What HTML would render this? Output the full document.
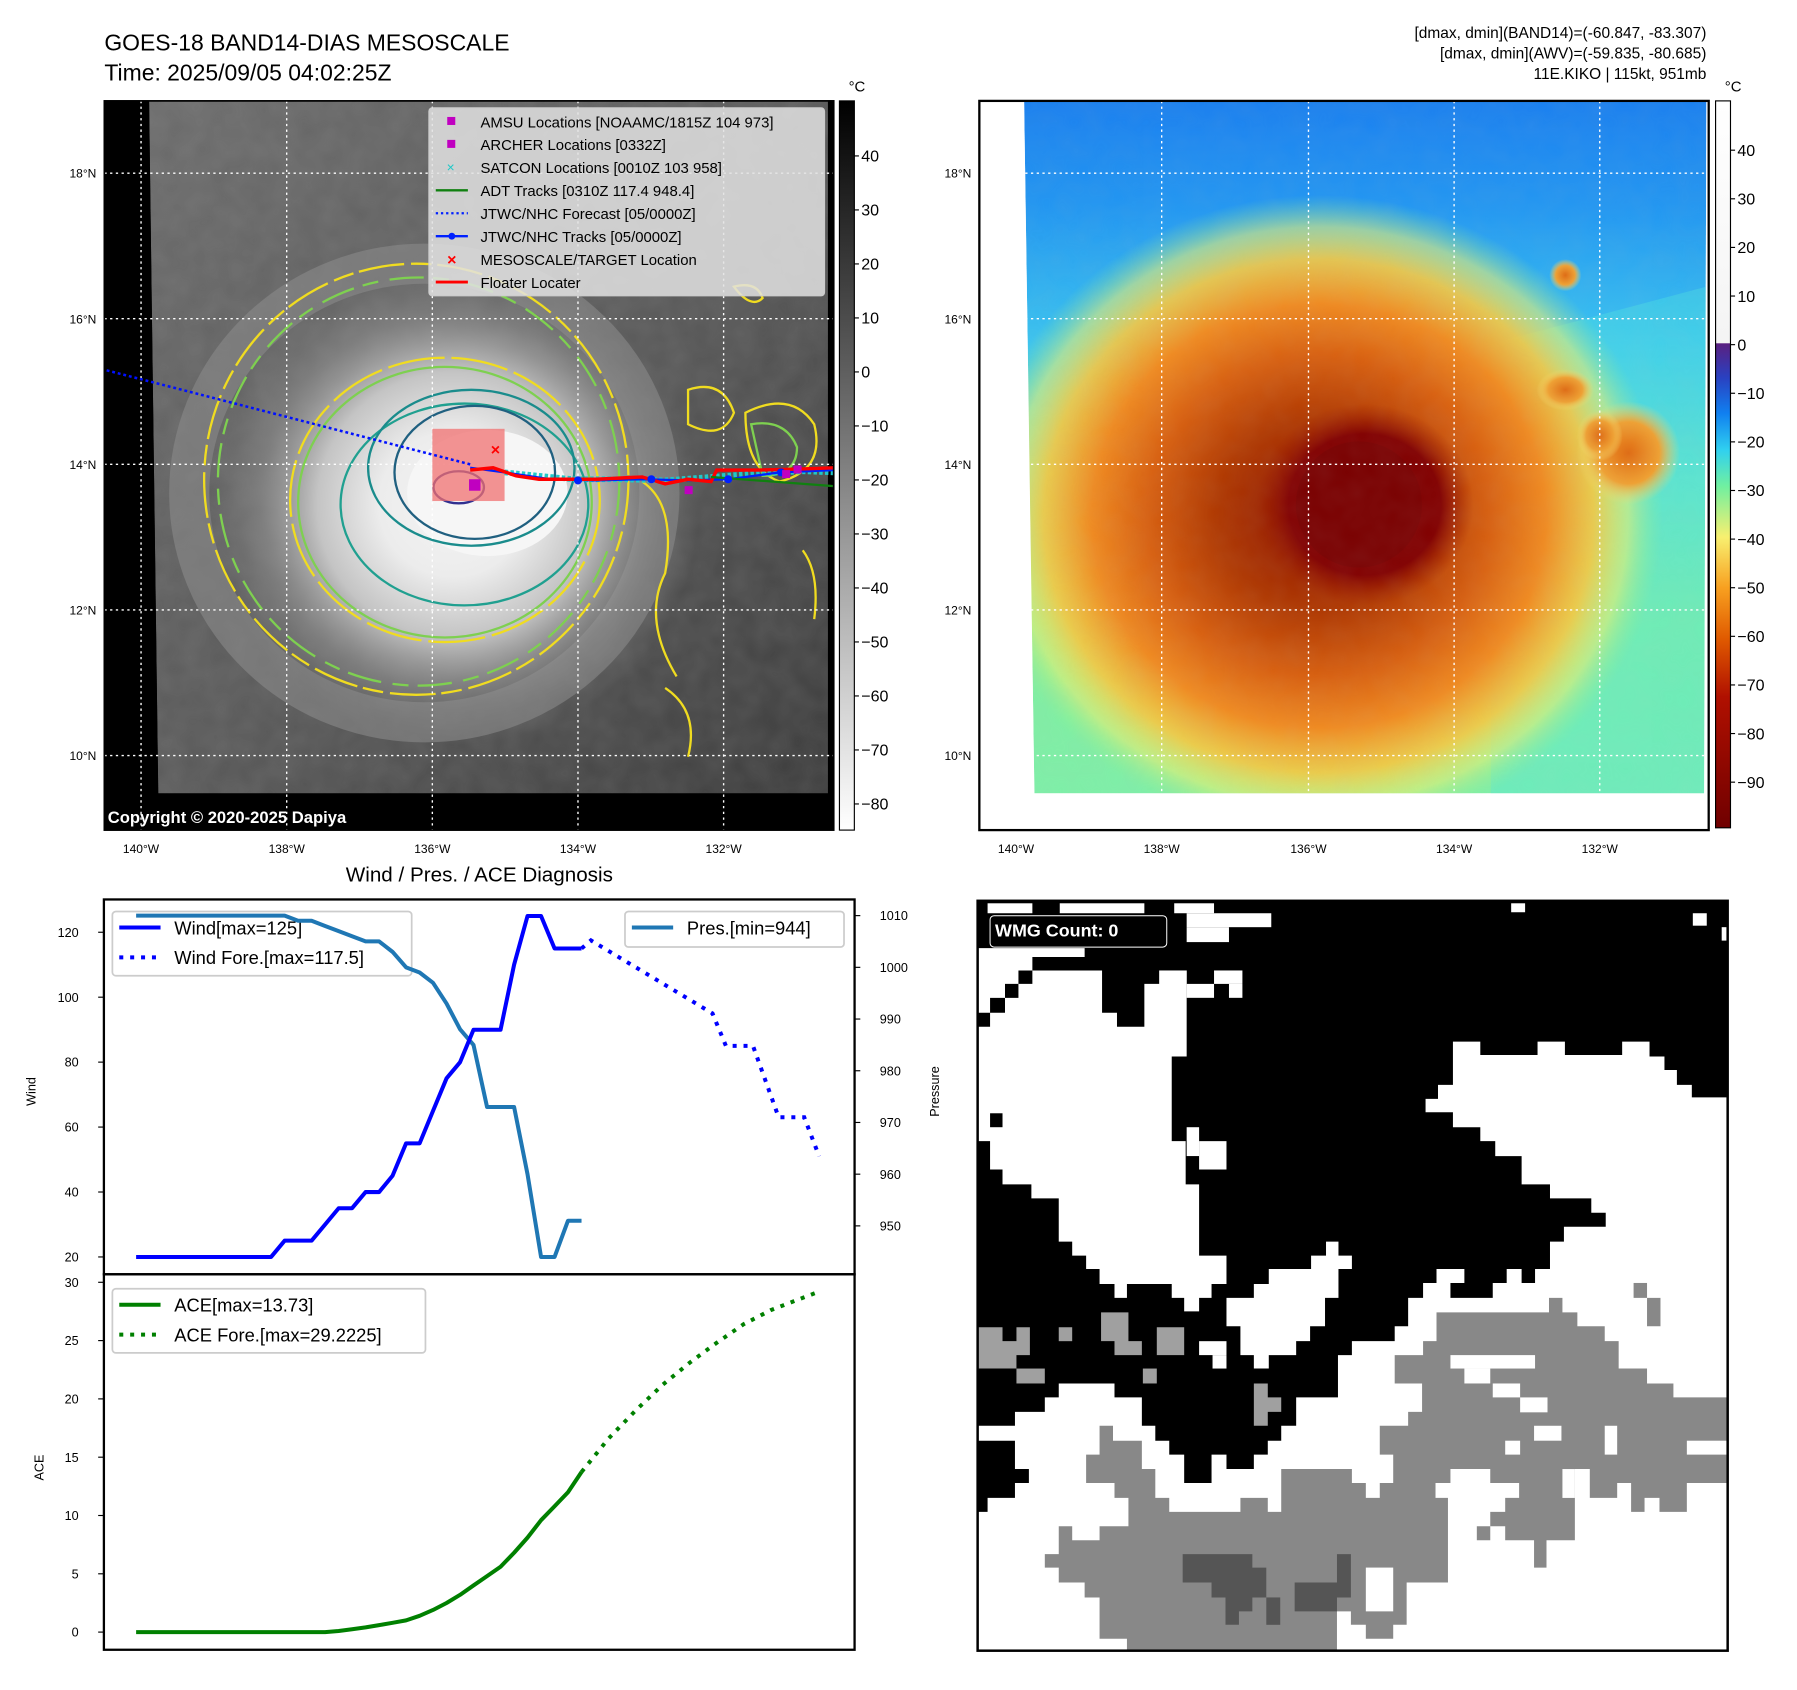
<!DOCTYPE html>
<html><head><meta charset="utf-8"><style>
html,body{margin:0;padding:0;background:#fff;}
svg{display:block;font-family:"Liberation Sans","DejaVu Sans",sans-serif;}
</style></head><body>
<svg id="root" width="1797" height="1690" viewBox="0 0 1567 1474" preserveAspectRatio="none" xmlns="http://www.w3.org/2000/svg">
<defs>
<clipPath id="lclip"><polygon points="130,88 722,88 722,692 138,692"/></clipPath>
<clipPath id="rclip"><polygon points="893,88 1488,88 1486,692 902,692"/></clipPath>
<linearGradient id="lbg" x1="0" y1="0" x2="1" y2="1"><stop offset="0" stop-color="#6c6c6c"/><stop offset="0.5" stop-color="#5a5a5a"/><stop offset="1" stop-color="#3c3c3c"/></linearGradient>
<radialGradient id="lcloud" cx="0.5" cy="0.5" r="0.5"><stop offset="0" stop-color="#f4f4f4"/><stop offset="0.3" stop-color="#ececec"/><stop offset="0.55" stop-color="#c4c4c4"/><stop offset="0.78" stop-color="#909090" stop-opacity="0.6"/><stop offset="1" stop-color="#808080" stop-opacity="0"/></radialGradient>
<linearGradient id="lcb" x1="0" y1="0" x2="0" y2="1"><stop offset="0" stop-color="#000"/><stop offset="1" stop-color="#fff"/></linearGradient>
<linearGradient id="rbg" x1="0" y1="0" x2="0" y2="1"><stop offset="0" stop-color="#1a80f0"/><stop offset="0.15" stop-color="#2196f2"/><stop offset="0.35" stop-color="#3ac4f0"/><stop offset="0.55" stop-color="#62e4c8"/><stop offset="0.75" stop-color="#80f0a0"/><stop offset="1" stop-color="#7ef0a8"/></linearGradient>
<radialGradient id="rstorm" cx="0.5" cy="0.5" r="0.5"><stop offset="0" stop-color="#8a1000"/><stop offset="0.3" stop-color="#b03800"/><stop offset="0.5" stop-color="#d86010"/><stop offset="0.66" stop-color="#f08a20"/><stop offset="0.8" stop-color="#f8c840" stop-opacity="0.9"/><stop offset="0.9" stop-color="#e8f070" stop-opacity="0.6"/><stop offset="1" stop-color="#90f090" stop-opacity="0"/></radialGradient>
<radialGradient id="rcore" cx="0.5" cy="0.5" r="0.5"><stop offset="0" stop-color="#7a0000"/><stop offset="0.7" stop-color="#820000"/><stop offset="1" stop-color="#a02000" stop-opacity="0"/></radialGradient>
<radialGradient id="blob" cx="0.5" cy="0.5" r="0.5"><stop offset="0" stop-color="#e06a10"/><stop offset="0.6" stop-color="#f0a030"/><stop offset="1" stop-color="#f8e070" stop-opacity="0"/></radialGradient>
<linearGradient id="rcb" x1="0" y1="0" x2="0" y2="1"><stop offset="0" stop-color="#fff"/><stop offset="0.333" stop-color="#f4f4f4"/><stop offset="0.334" stop-color="#5a2080"/><stop offset="0.38" stop-color="#2a40c0"/><stop offset="0.43" stop-color="#1080f0"/><stop offset="0.48" stop-color="#30d0f0"/><stop offset="0.53" stop-color="#70f0a0"/><stop offset="0.6" stop-color="#f8f070"/><stop offset="0.67" stop-color="#f8a020"/><stop offset="0.74" stop-color="#e05a00"/><stop offset="0.82" stop-color="#b01000"/><stop offset="1" stop-color="#700000"/></linearGradient>
<filter id="tex" x="0" y="0" width="1" height="1"><feTurbulence type="fractalNoise" baseFrequency="0.05" numOctaves="2" seed="3"/><feColorMatrix values="0 0 0 0 0.5  0 0 0 0 0.5  0 0 0 0 0.5  0 0 0 0.25 0"/></filter>
</defs>

<!-- titles -->
<text x="91" y="44" font-size="20">GOES-18 BAND14-DIAS MESOSCALE</text>
<text x="91" y="70" font-size="20">Time: 2025/09/05 04:02:25Z</text>
<g font-size="13.5" text-anchor="end">
<text x="1488" y="33">[dmax, dmin](BAND14)=(-60.847, -83.307)</text>
<text x="1488" y="51">[dmax, dmin](AWV)=(-59.835, -80.685)</text>
<text x="1488" y="69">11E.KIKO | 115kt, 951mb</text>
</g>

<!-- LEFT MAP -->
<g>
<rect x="91" y="88" width="636" height="636" fill="#000"/>
<g clip-path="url(#lclip)">
<polygon points="130,88 722,88 722,692 138,692" fill="url(#lbg)"/>
<polygon points="130,88 722,88 722,692 138,692" filter="url(#tex)" opacity="0.6"/>
<ellipse cx="370" cy="430" rx="205" ry="200" fill="none" stroke="#8a8a8a" stroke-width="35" opacity="0.6"/>
<ellipse cx="395" cy="440" rx="215" ry="210" fill="url(#lcloud)"/>
<ellipse cx="425" cy="430" rx="70" ry="55" fill="#f6f6f6"/>
<g fill="none" stroke-width="2">
<ellipse cx="363" cy="418" rx="185" ry="188" stroke="#f0dc20" stroke-dasharray="40 6 18 5"/>
<ellipse cx="365" cy="420" rx="175" ry="178" stroke="#7ed050" stroke-dasharray="30 8 14 10"/>
<ellipse cx="388" cy="436" rx="135" ry="124" stroke="#f0dc20" stroke-dasharray="50 6"/>
<ellipse cx="388" cy="438" rx="128" ry="118" stroke="#7ed050"/>
<ellipse cx="405" cy="440" rx="108" ry="88" stroke="#20a090"/>
<ellipse cx="411" cy="408" rx="90" ry="68" stroke="#1a8c8c"/>
<ellipse cx="414" cy="412" rx="70" ry="58" stroke="#206080"/>
<ellipse cx="400" cy="425" rx="22" ry="14" stroke="#303090"/>
<path d="M600,340 q30,-10 40,20 q-10,25 -40,10 z M650,360 q40,-20 60,10 q10,40 -30,50 q-30,-10 -30,-60 z M560,420 q30,20 20,80 q-20,40 10,90 M580,600 q30,20 20,60 M640,250 q20,-5 25,10 q-10,10 -25,-10 z M700,480 q15,20 10,60" stroke="#f0dc20"/>
<path d="M655,370 q30,-5 40,20 q0,25 -30,25 z" stroke="#7ed050"/>
</g>
</g>
<g stroke="#fff" stroke-width="1.2" stroke-dasharray="2 3" fill="none">
<line x1="91" y1="151" x2="727" y2="151"/><line x1="91" y1="278" x2="727" y2="278"/><line x1="91" y1="405" x2="727" y2="405"/><line x1="91" y1="532" x2="727" y2="532"/><line x1="91" y1="659" x2="727" y2="659"/>
<line x1="123" y1="88" x2="123" y2="724"/><line x1="250" y1="88" x2="250" y2="724"/><line x1="377" y1="88" x2="377" y2="724"/><line x1="504" y1="88" x2="504" y2="724"/><line x1="631" y1="88" x2="631" y2="724"/>
</g>
<rect x="377" y="374" width="63" height="63" fill="#f07070" opacity="0.75"/>
<line x1="93" y1="323" x2="410" y2="405" stroke="#0010ff" stroke-width="2.2" stroke-dasharray="2.5 2.5"/>
<polyline points="440,412 470,415 500,418 540,418 580,419 620,416 660,413 700,411 727,412" fill="none" stroke="#20c8c8" stroke-width="5" stroke-dasharray="3 2"/>
<polyline points="410,408 440,412 480,418 520,419 560,418 600,419 635,418 680,412 727,410" fill="none" stroke="#0020ff" stroke-width="2"/>
<polyline points="410,410 430,408 450,415 470,418 520,418 560,416 580,422 600,418 620,420 625,410 660,410 700,409 727,408" fill="none" stroke="#ff0000" stroke-width="3"/>
<line x1="620" y1="416" x2="727" y2="424" stroke="#108010" stroke-width="2"/>
<g fill="#0020ff"><circle cx="504" cy="419" r="3.5"/><circle cx="568" cy="418" r="3.5"/><circle cx="635" cy="418" r="3.5"/><circle cx="681" cy="412" r="3.5"/></g>
<g fill="#c000c0"><rect x="409" y="418" width="10" height="10"/><rect x="597" y="424" width="7" height="7"/><rect x="692" y="406" width="7" height="7"/><rect x="682" y="410" width="7" height="7"/></g>
<text x="432" y="397" font-size="14" fill="#ff0000" font-weight="bold" text-anchor="middle">×</text>
<text x="94" y="718" font-size="14.5" font-weight="bold" fill="#fff">Copyright © 2020-2025 Dapiya</text>
<rect x="91" y="88" width="636" height="636" fill="none" stroke="#000" stroke-width="1.5"/>
</g>
<!-- left legend -->
<g>
<rect x="374" y="94" width="345" height="164" rx="3" fill="#e2e2e2" fill-opacity="0.85" stroke="#ccc"/>
<g font-size="13">
<rect x="390" y="102" width="7" height="7" fill="#c000c0"/><text x="419" y="111">AMSU Locations [NOAAMC/1815Z 104 973]</text>
<rect x="390" y="122" width="7" height="7" fill="#c000c0"/><text x="419" y="131">ARCHER Locations [0332Z]</text>
<text x="393" y="150" fill="#20c8c8" text-anchor="middle" font-size="12">×</text><text x="419" y="151">SATCON Locations [0010Z 103 958]</text>
<line x1="380" y1="166" x2="408" y2="166" stroke="#108010" stroke-width="2"/><text x="419" y="171">ADT Tracks [0310Z 117.4 948.4]</text>
<line x1="380" y1="186" x2="408" y2="186" stroke="#0020ff" stroke-width="2" stroke-dasharray="2 2.5"/><text x="419" y="191">JTWC/NHC Forecast [05/0000Z]</text>
<line x1="380" y1="206" x2="408" y2="206" stroke="#0020ff" stroke-width="2"/><circle cx="394" cy="206" r="3" fill="#0020ff"/><text x="419" y="211">JTWC/NHC Tracks [05/0000Z]</text>
<text x="394" y="231" fill="#ff0000" font-weight="bold" text-anchor="middle" font-size="14">×</text><text x="419" y="231">MESOSCALE/TARGET Location</text>
<line x1="380" y1="246" x2="408" y2="246" stroke="#ff0000" stroke-width="2.5"/><text x="419" y="251">Floater Locater</text>
</g></g>
<!-- left colorbar -->
<g>
<rect x="732" y="88" width="13" height="636" fill="url(#lcb)" stroke="#000" stroke-width="1"/>
<text x="740" y="80" font-size="13">°C</text>
<g font-size="14" id="lcbticks"></g>
</g>
<g font-size="10.5" text-anchor="end">
<text x="84" y="155">18°N</text><text x="84" y="282">16°N</text><text x="84" y="409">14°N</text><text x="84" y="536">12°N</text><text x="84" y="663">10°N</text>
</g>
<g font-size="10.5" text-anchor="middle">
<text x="123" y="744">140°W</text><text x="250" y="744">138°W</text><text x="377" y="744">136°W</text><text x="504" y="744">134°W</text><text x="631" y="744">132°W</text>
</g>

<!-- RIGHT MAP -->
<g>
<rect x="854" y="88" width="636" height="636" fill="#fff"/>
<g clip-path="url(#rclip)">
<polygon points="893,88 1488,88 1486,692 902,692" fill="url(#rbg)"/>
<polygon points="1300,300 1488,250 1488,692 1300,692" fill="#50e8e0" opacity="0.35"/>
<ellipse cx="1150" cy="450" rx="300" ry="280" fill="url(#rstorm)"/>
<ellipse cx="1190" cy="440" rx="95" ry="88" fill="url(#rcore)"/>
<ellipse cx="1185" cy="440" rx="55" ry="55" fill="#7a0000"/>
<ellipse cx="1420" cy="395" rx="45" ry="45" fill="url(#blob)"/>
<ellipse cx="1365" cy="340" rx="25" ry="18" fill="url(#blob)"/>
<ellipse cx="1365" cy="240" rx="14" ry="14" fill="url(#blob)"/>
<ellipse cx="1395" cy="380" rx="20" ry="22" fill="url(#blob)"/>
<polygon points="893,88 1488,88 1486,692 902,692" filter="url(#tex)" opacity="0.35"/>
</g>
<g stroke="#fff" stroke-width="1.2" stroke-dasharray="2 3" fill="none">
<line x1="854" y1="151" x2="1490" y2="151"/><line x1="854" y1="278" x2="1490" y2="278"/><line x1="854" y1="405" x2="1490" y2="405"/><line x1="854" y1="532" x2="1490" y2="532"/><line x1="854" y1="659" x2="1490" y2="659"/>
<line x1="886" y1="88" x2="886" y2="724"/><line x1="1013" y1="88" x2="1013" y2="724"/><line x1="1141" y1="88" x2="1141" y2="724"/><line x1="1268" y1="88" x2="1268" y2="724"/><line x1="1395" y1="88" x2="1395" y2="724"/>
</g>
<rect x="854" y="88" width="636" height="636" fill="none" stroke="#000" stroke-width="2"/>
</g>
<g>
<rect x="1496" y="88" width="13" height="634" fill="url(#rcb)" stroke="#000" stroke-width="1"/>
<text x="1504" y="80" font-size="13">°C</text>
<g font-size="14" id="rcbticks"></g>
</g>
<g font-size="10.5" text-anchor="end">
<text x="847" y="155">18°N</text><text x="847" y="282">16°N</text><text x="847" y="409">14°N</text><text x="847" y="536">12°N</text><text x="847" y="663">10°N</text>
</g>
<g font-size="10.5" text-anchor="middle">
<text x="886" y="744">140°W</text><text x="1013" y="744">138°W</text><text x="1141" y="744">136°W</text><text x="1268" y="744">134°W</text><text x="1395" y="744">132°W</text>
</g>

<!-- DIAGNOSIS CHART -->
<text x="418" y="769" font-size="18" text-anchor="middle">Wind / Pres. / ACE Diagnosis</text>
<g id="chart"></g>

<!-- WMG GRID -->
<g>
<g transform="translate(852.5,783.5) scale(0.434)">
<rect x="0" y="5" width="1507" height="1507" fill="#fff"/>
<polygon fill="#000" points="0,5 1505,5 1505,400 1435,400 1435,375 1405,375 1405,345 1380,345 1380,318 1350,318 1350,288 1295,288 1295,315 1180,315 1180,288 1125,288 1125,315 1010,315 1010,288 955,288 955,375 925,375 925,403 900,403 900,430 955,430 955,460 1010,460 1010,488 1040,488 1040,518 1093,518 1093,575 1150,575 1150,603 1233,603 1233,632 1262,632 1262,660 1178,660 1178,690 1150,690 1150,745 1120,745 1120,773 1093,773 1093,745 1063,745 1063,773 1035,773 1035,803 950,803 950,773 978,773 978,745 922,745 922,773 895,773 895,803 865,803 865,860 838,860 838,890 752,890 752,918 724,918 724,1003 640,1003 640,1060 610,1060 610,1090 583,1090 583,1118 555,1118 555,1147 500,1147 500,1118 470,1118 470,1175 415,1175 415,1118 385,1118 385,1090 357,1090 357,1060 330,1060 330,1003 275,1003 275,975 163,975 163,1003 135,1003 135,1032 75,1032 75,1060 0,1060"/>
<polygon fill="#000" points="0,1090 75,1090 75,1147 103,1147 103,1175 75,1175 75,1205 20,1205 20,1233 0,1233"/>
<g fill="#fff">
<rect x="20" y="10" width="90" height="20"/><rect x="165" y="10" width="170" height="20"/><rect x="395" y="10" width="80" height="20"/><rect x="420" y="30" width="170" height="28"/><rect x="420" y="58" width="85" height="30"/>
<rect x="1072" y="10" width="28" height="18"/><rect x="1437" y="30" width="28" height="25"/><rect x="1495" y="58" width="10" height="27"/>
<rect x="475" y="145" width="57" height="27"/><rect x="505" y="172" width="27" height="28"/><rect x="420" y="172" width="55" height="28"/><rect x="365" y="145" width="55" height="27"/>
<polygon points="0,100 215,100 215,118 110,118 110,145 82,145 82,172 55,172 55,200 25,200 25,230 0,230"/>
<polygon points="0,258 25,258 25,230 55,230 55,200 82,200 82,172 110,172 110,145 250,145 250,230 280,230 280,258 335,258 335,172 365,172 365,145 420,145 420,318 390,318 390,488 418,488 418,575 445,575 445,718 500,718 500,775 470,775 470,803 445,803 445,830 415,830 415,803 390,803 390,775 300,775 300,803 275,803 275,775 245,775 245,745 218,745 218,718 190,718 190,690 163,690 163,603 108,603 108,575 50,575 50,545 25,545 25,488 0,488"/>
<rect x="445" y="488" width="55" height="57"/><rect x="420" y="460" width="25" height="58"/>
<polygon points="585,745 670,745 670,718 700,718 700,690 725,690 725,718 752,718 752,745 725,745 725,803 698,803 698,860 668,860 668,890 640,890 640,918 585,918 585,945 555,945 555,918 528,918 528,860 500,860 500,803 555,803 555,775 585,775"/>
<rect x="445" y="890" width="55" height="28"/><rect x="472" y="918" width="28" height="27"/>
</g>
<rect x="25" y="432" width="25" height="28" fill="#000"/>
<g fill="#a0a0a0">
<polygon points="0,862 50,862 50,890 78,890 78,862 105,862 105,918 78,918 78,945 0,945"/>
<rect x="78" y="945" width="57" height="30"/><rect x="163" y="862" width="27" height="28"/>
<polygon points="248,832 303,832 303,890 330,890 330,918 275,918 275,890 248,890"/>
<rect x="360" y="862" width="55" height="56"/><rect x="332" y="945" width="28" height="30"/>
<polygon points="555,975 583,975 583,1003 610,1003 610,1032 583,1032 583,1060 555,1060"/>
</g>
<g fill="#888">
<polygon points="922,832 1148,832 1148,803 1175,803 1175,832 1205,832 1205,860 1260,860 1260,890 1288,890 1288,945 1345,945 1345,975 1398,975 1398,1003 1505,1003 1505,1175 1425,1175 1425,1233 1370,1233 1370,1205 1340,1205 1340,1233 1313,1233 1313,1175 1285,1175 1285,1205 1230,1205 1230,1147 1200,1147 1200,1290 1143,1290 1143,1345 1118,1345 1118,1290 1060,1290 1060,1262 1003,1262 1003,1290 1030,1290 1030,1233 1060,1233 1060,1205 1088,1205 1088,1175 1030,1175 1030,1147 950,1147 950,1175 920,1175 920,1205 945,1205 945,1375 862,1375 862,1460 835,1460 835,1488 780,1488 780,1460 750,1460 750,1433 722,1433 722,1512 300,1512 300,1488 245,1488 245,1405 215,1405 215,1375 163,1375 163,1345 135,1345 135,1318 163,1318 163,1262 190,1262 190,1290 245,1290 245,1262 303,1262 303,1205 275,1205 275,1175 218,1175 218,1118 245,1118 245,1060 272,1060 272,1090 330,1090 330,1147 357,1147 357,1205 385,1205 385,1233 528,1233 528,1205 583,1205 583,1233 610,1233 610,1147 752,1147 752,1175 780,1175 780,1205 808,1205 808,1175 835,1175 835,1118 808,1118 808,1060 865,1060 865,1032 893,1032 893,975 838,975 838,918 895,918 895,890 922,890"/>
<rect x="1318" y="773" width="27" height="30"/><rect x="1345" y="803" width="27" height="57"/>
</g>
<g fill="#fff">
<rect x="950" y="918" width="170" height="27"/><rect x="978" y="945" width="52" height="30"/><rect x="1035" y="975" width="55" height="28"/><rect x="1090" y="1003" width="55" height="30"/>
<rect x="1118" y="1060" width="55" height="30"/><rect x="1060" y="1090" width="30" height="28"/><rect x="1260" y="1060" width="25" height="58"/><rect x="1425" y="1090" width="80" height="28"/>
<rect x="780" y="1345" width="55" height="88"/><rect x="1175" y="1147" width="25" height="58"/>
</g>
<g fill="#555">
<polygon points="412,1318 552,1318 552,1345 580,1345 580,1405 552,1405 552,1433 525,1433 525,1460 498,1460 498,1405 470,1405 470,1375 412,1375"/>
<polygon points="637,1375 722,1375 722,1318 750,1318 750,1405 722,1405 722,1433 637,1433"/>
<rect x="580" y="1405" width="28" height="55"/>
</g>
<rect x="25" y="35" width="355" height="63" rx="8" fill="#000" stroke="#fff" stroke-width="2"/>
<text x="35" y="77" font-size="36" font-weight="bold" fill="#fff">WMG Count: 0</text>
<rect x="0" y="5" width="1507" height="1507" fill="none" stroke="#000" stroke-width="5"/>
</g>
</g>
</svg>
<script>
// ---- chart data ----
const obsIdx = [0,1,2,3,4,5,6,7,8,9,10,11,12,13,14,15,16,17,18,19,20,21,22,23,24,25,26,27,28,29,30,31,32,33];
const windVals = [20,20,20,20,20,20,20,20,20,20,20,25,25,25,30,35,35,40,40,45,55,55,65,75,80,90,90,90,110,125,125,115,115,115];
const presVals = [1010,1010,1010,1010,1010,1010,1010,1010,1010,1010,1010,1010,1009,1009,1008,1007,1006,1005,1005,1003,1000,999,997,993,988,985,973,973,973,960,944,944,951,951];
const aceVals = [0,0,0,0,0,0,0,0,0,0,0,0,0,0,0,0.1,0.25,0.4,0.6,0.8,1.0,1.4,1.9,2.5,3.2,4.0,4.8,5.6,6.8,8.1,9.6,10.8,12.0,13.73];
const windForeIdx = [33,33.7,42.7,43.7,45.7,47.6,49.5,50.6];
const windForeVals = [115,117.5,95,85,85,63,63,51];
const aceForeIdx = [33,35,37,39,41,43,45,47,49,50.6];
const aceForeVals = [13.73,16.6,19.0,21.2,23.1,24.8,26.4,27.6,28.5,29.2];
const windTicks = [20,40,60,80,100,120];
const presTicks = [950,960,970,980,990,1000,1010];
const aceTicks = [0,5,10,15,20,25,30];
const lcbTicks = [40,30,20,10,0,-10,-20,-30,-40,-50,-60,-70,-80];
const rcbTicks = [40,30,20,10,0,-10,-20,-30,-40,-50,-60,-70,-80,-90];

const NS = 'http://www.w3.org/2000/svg';
const chart = document.getElementById('chart');
const X0 = 118.7, DX = 11.77;
const AX_L = 90.6, AX_R = 745.2, TOP1 = 784.5, MID = 1111.4, BOT = 1438.9;
function xS(i){ return X0 + i*DX; }
function yWind(v){ return 1096.3 - (v-20)*2.832; }
function yPres(p){ return 798.6 + (1010-p)*4.51; }
function yAce(a){ return 1423.5 - a*10.17; }
function mk(tag, attrs, parent){
  const e = document.createElementNS(NS, tag);
  for (const k in attrs) e.setAttribute(k, attrs[k]);
  (parent||chart).appendChild(e); return e;
}
function pts(xs, ys, fy){ return xs.map((x,i)=>xS(x).toFixed(1)+','+fy(ys[i]).toFixed(1)).join(' '); }
function minus(v){ return String(v).replace('-', '\u2212'); }

let f1 = mk('rect',{x:AX_L,y:TOP1,width:AX_R-AX_L,height:MID-TOP1,fill:'none',stroke:'#000','stroke-width':2});


let f2 = mk('rect',{x:AX_L,y:MID,width:AX_R-AX_L,height:BOT-MID,fill:'none',stroke:'#000','stroke-width':2});



windTicks.forEach(v=>{
  const y = yWind(v);
  mk('line',{x1:AX_L-5,y1:y,x2:AX_L,y2:y,stroke:'#000','stroke-width':1});
  const t = mk('text',{x:AX_L-22,y:y+4,'font-size':11,'text-anchor':'end'}); t.textContent = v;
  
  
});
presTicks.forEach(v=>{
  const y = yPres(v);
  mk('line',{x1:AX_R,y1:y,x2:AX_R+5,y2:y,stroke:'#000','stroke-width':1});
  const t = mk('text',{x:AX_R+22,y:y+4,'font-size':11}); t.textContent = v;
  
  
});
aceTicks.forEach(v=>{
  const y = yAce(v);
  mk('line',{x1:AX_L-5,y1:y,x2:AX_L,y2:y,stroke:'#000','stroke-width':1});
  const t = mk('text',{x:AX_L-22,y:y+4,'font-size':11,'text-anchor':'end'}); t.textContent = v;
  
  
});
let yl = mk('text',{x:0,y:0,'font-size':11,'text-anchor':'middle',transform:'translate(31,952) rotate(-90)'}); yl.textContent='Wind';


let pl = mk('text',{x:0,y:0,'font-size':11,'text-anchor':'middle',transform:'translate(819,952) rotate(-90)'}); pl.textContent='Pressure';


let al = mk('text',{x:0,y:0,'font-size':11,'text-anchor':'middle',transform:'translate(38,1280) rotate(-90)'}); al.textContent='ACE';



// legends (drawn before lines so pressure line overlays the wind legend like the reference)
function legend(x,y,w,h,items,name){
  const g = mk('g',{});
  
  
  mk('rect',{x:x,y:y,width:w,height:h,rx:3,fill:'#fff','fill-opacity':0.8,stroke:'#ccc','stroke-width':1.5},g);
  items.forEach((it,k)=>{
    const yy = y+14+k*26;
    mk('line',{x1:x+6,y1:yy,x2:x+42,y2:yy,stroke:it.c,'stroke-width':3.5,'stroke-dasharray':it.d||'none'},g);
    const t = mk('text',{x:x+54,y:yy+6,'font-size':16},g); t.textContent = it.t;
  });
}
legend(98,795,261,56,[{c:'#0000ff',t:'Wind[max=125]'},{c:'#0000ff',t:'Wind Fore.[max=117.5]',d:'3.5 6'}],'wind-legend');

let pLine = mk('polyline',{points:pts(obsIdx,presVals,yPres),fill:'none',stroke:'#1f77b4','stroke-width':3.5,'stroke-linejoin':'round'});


let wLine = mk('polyline',{points:pts(obsIdx,windVals,yWind),fill:'none',stroke:'#0000ff','stroke-width':3.5,'stroke-linejoin':'round'});


let wfLine = mk('polyline',{points:pts(windForeIdx,windForeVals,yWind),fill:'none',stroke:'#0000ff','stroke-width':3.5,'stroke-dasharray':'3.5 6'});


let aLine = mk('polyline',{points:pts(obsIdx,aceVals,yAce),fill:'none',stroke:'#008000','stroke-width':3.5,'stroke-linejoin':'round'});


let afLine = mk('polyline',{points:pts(aceForeIdx,aceForeVals,yAce),fill:'none',stroke:'#008000','stroke-width':3.5,'stroke-dasharray':'3.5 6'});



legend(545,795,191,31,[{c:'#1f77b4',t:'Pres.[min=944]'}],'pressure-legend');
legend(98,1124,273,56,[{c:'#008000',t:'ACE[max=13.73]'},{c:'#008000',t:'ACE Fore.[max=29.2225]',d:'3.5 6'}],'ace-legend');

const lg = document.getElementById('lcbticks');
lcbTicks.forEach(v=>{
  const y = 136 + (40-v)*4.71;
  mk('line',{x1:745,y1:y,x2:749,y2:y,stroke:'#000'},lg);
  const t = mk('text',{x:751,y:y+5},lg); t.textContent = minus(v);
  
  
});
const rg = document.getElementById('rcbticks');
rcbTicks.forEach(v=>{
  const y = 131 + (40-v)*4.24;
  mk('line',{x1:1509,y1:y,x2:1513,y2:y,stroke:'#000'},rg);
  const t = mk('text',{x:1515,y:y+5},rg); t.textContent = minus(v);
  
  
});
</script>
</body></html>
